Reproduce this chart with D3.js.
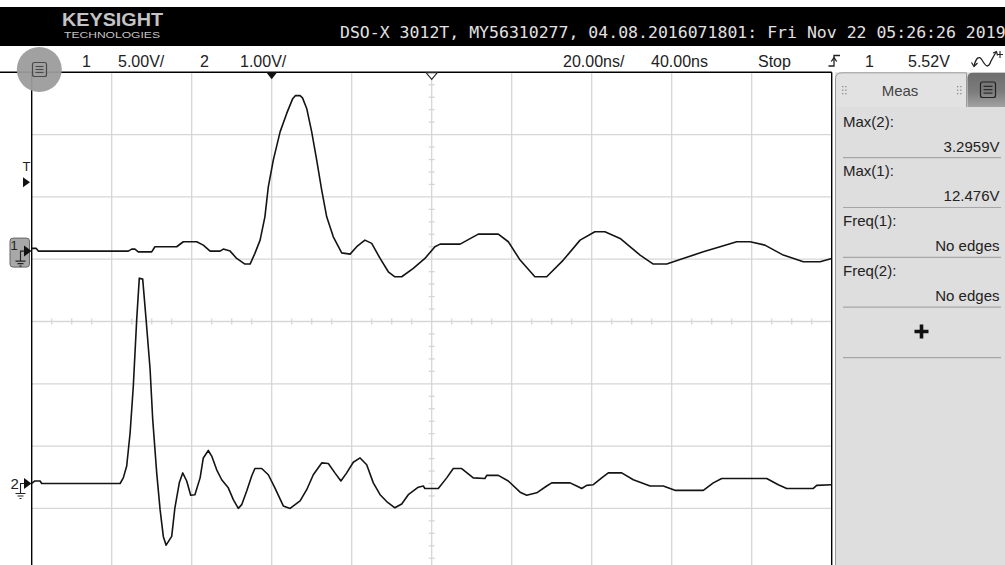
<!DOCTYPE html>
<html>
<head>
<meta charset="utf-8">
<script src="https://cdn.jsdelivr.net/npm/d3@7"></script>
<style>
  html, body { margin: 0; padding: 0; background: #fff; overflow: hidden; }
  svg { display: block; }
</style>
</head>
<body>
<svg id="scope" width="1005" height="565"></svg>
<script>
// ---- Captured waveforms (time in ns, amplitude in volts) ----
const ch1Time = [-60,-58.9,-58.35,-35.85,-35,-34.2,-33.35,-30,-29.2,-23.75,-22.1,-18.75,-17.1,-15.4,-12.9,
  -12.1,-10.4,-8.75,-6.7,-5.4,-4.2,-2.9,-1.7,-0.85,0.4,2.1,3.75,5.2,5.9,7.1,7.7,8.75,10,11.25,12.5,
  13.75,15.4,17.5,19.6,21.25,23.3,25,27.1,29.15,30.8,32.5,35.4,38.3,40.8,42.1,47.1,51.65,56.65,59.15,
  62.1,65.8,68.75,72.9,77.1,80.8,83.3,87.1,92.1,95.4,98.75,102.1,107.9,112.1,116.25,119.6,123.3,127.9,
  132.9,137.1,140];
const ch1Volts = [0.22,0.22,0,0,0.16,0.16,-0.06,-0.06,0.35,0.35,0.75,0.75,0.48,0,0,
  0.16,0,-0.59,-1.04,-1.04,-0.18,0.88,2.75,5.16,7.30,9.57,11.05,12.2,12.476,12.476,12.3,11.45,9.57,7.30,4.90,
  2.75,1.15,-0.14,-0.24,0.35,0.88,0.62,-0.59,-1.66,-2.06,-2.06,-1.39,-0.59,0.35,0.56,0.56,1.36,1.36,0.75,
  -0.72,-2.06,-2.06,-0.72,0.88,1.55,1.55,1.02,-0.32,-1.04,-1.04,-0.67,-0.06,0.35,0.75,0.75,0.48,-0.32,
  -0.86,-0.86,-0.59];

const ch2Time = [-60,-59.2,-57.9,-57.5,-37.9,-37.1,-36.25,-35.4,-34.6,-33.75,-33.1,-32.25,-31.4,-30.4,-29.75,
  -28.75,-27.9,-27.1,-26.4,-25,-24.2,-23.1,-22.25,-21.25,-20.25,-19.2,-17.9,-17.1,-15.85,-15,-13.75,-12.5,
  -10.85,-9.6,-8.35,-7.5,-6.25,-5,-4.2,-2.5,-0.85,0.8,2.9,4.6,7.1,8.75,10.4,12.5,14.15,15.8,17.3,18.75,
  20.4,22.1,23.75,25.4,27.1,28.75,30.8,32.5,34.15,36.65,37.9,38.3,41.65,43.75,45.4,47.5,50.4,53.3,53.75,
  56.65,59.15,62.1,63.75,66.25,68.75,70,74.6,76.25,77.5,78.75,80.4,82.5,84.15,87.5,90.4,94.6,97.9,100.8,
  107.9,110.4,112.5,123.75,126.65,128.75,135.4,136.25,140];
const ch2Volts = [0,0.04,0.04,0,0,0.09,0.28,0.81,1.56,2.63,3.2959,3.28,2.63,1.83,1.03,
  0.17,-0.42,-0.85,-0.99,-0.85,-0.39,0.01,0.17,0.04,-0.19,-0.18,0.09,0.41,0.53,0.44,0.22,0.06,
  -0.07,-0.26,-0.40,-0.34,-0.12,0.12,0.24,0.24,0.14,-0.07,-0.36,-0.40,-0.28,-0.10,0.14,0.33,0.32,0.17,0.04,0.17,
  0.34,0.41,0.30,0.01,-0.18,-0.29,-0.39,-0.33,-0.18,-0.06,-0.04,-0.08,-0.08,0.09,0.24,0.24,0.09,0.08,0.13,
  0.13,0.04,-0.14,-0.19,-0.15,-0.04,0.01,0.01,-0.04,-0.08,-0.03,-0.02,0.09,0.17,0.17,0.06,-0.04,-0.04,-0.11,
  -0.11,0.01,0.08,0.08,-0.02,-0.08,-0.08,-0.03,-0.02];

// ---- Instrument settings ----
const channelNames   = ["1", "2"];
const channelScales  = [5, 1];        // V/div
const channelCenters = [-5.65, 2.6];  // volts at the vertical centre of the screen
const timeScale = 20;                 // ns/div
const timeDelay = 40;                 // ns at the horizontal centre
const triggerLevel = 5.52;            // V, channel 1
const triggerTime = 0;

// ---- Text ----
const brandName = "KEYSIGHT";
const brandSub = "TECHNOLOGIES";
const headerTitle = "DSO-X 3012T, MY56310277, 04.08.2016071801: Fri Nov 22 05:26:26 2019";
const statusLabels = [
  { text: "1", x: 82 }, { text: "5.00V/", x: 118 },
  { text: "2", x: 200 }, { text: "1.00V/", x: 240 },
  { text: "20.00ns/", x: 563 }, { text: "40.00ns", x: 651 },
  { text: "Stop", x: 758 }, { text: "1", x: 865 }, { text: "5.52V", x: 908 }
];
const measTitle = "Meas";
const measNames = ["Max(2):", "Max(1):", "Freq(1):", "Freq(2):"];
const noEdges = "No edges";

// ---- Layout ----
const plot = { left: 31.7, top: 72.3, divW: 80, divH: 62.3, cols: 10, rows: 8 };
plot.right = plot.left + plot.cols * plot.divW;
plot.bottom = plot.top + plot.rows * plot.divH;
const sans = "'Liberation Sans', Arial, sans-serif";

const svg = d3.select("#scope");

const x = d3.scaleLinear()
  .domain([timeDelay - timeScale * plot.cols / 2, timeDelay + timeScale * plot.cols / 2])
  .range([plot.left, plot.right]);
const yScales = channelScales.map((s, i) => d3.scaleLinear()
  .domain([channelCenters[i] - s * plot.rows / 2, channelCenters[i] + s * plot.rows / 2])
  .range([plot.bottom, plot.top]));

// ---- Header bar ----
svg.append("rect").attr("x", 0).attr("y", 7).attr("width", 1005).attr("height", 39).attr("fill", "#000");
svg.append("text").attr("x", 62).attr("y", 25.5).attr("fill", "#c4c4c4")
  .attr("font-family", sans).attr("font-weight", "bold").attr("font-size", 19)
  .attr("textLength", 101).attr("lengthAdjust", "spacingAndGlyphs").text(brandName);
svg.append("text").attr("x", 64).attr("y", 37.8).attr("fill", "#c4c4c4")
  .attr("font-family", sans).attr("font-size", 8.6)
  .attr("textLength", 96).attr("lengthAdjust", "spacingAndGlyphs").text(brandSub);
svg.append("text").attr("x", 340).attr("y", 38.3).attr("fill", "#e2e2e2")
  .attr("font-family", "'DejaVu Sans Mono', 'Liberation Mono', monospace").attr("font-size", 16.5)
  .text(headerTitle);

// ---- Status row ----
svg.selectAll("text.status").data(statusLabels).join("text")
  .attr("class", "status").attr("x", d => d.x).attr("y", 66.5)
  .attr("font-family", sans).attr("font-size", 16).attr("fill", "#222")
  .text(d => d.text);

// trigger edge glyph
svg.append("path").attr("d", "M828.5,66 H834 V55.5 H840").attr("fill", "none").attr("stroke", "#222").attr("stroke-width", 1.3);
svg.append("path").attr("d", "M831.3,61.5 L834,57.6 L836.7,61.5").attr("fill", "none").attr("stroke", "#222").attr("stroke-width", 1.3);
// acquisition mode glyph
svg.append("path").attr("d", "M974,66 C976,58 979,55 982,60 S988,70 991,61 L996,52")
  .attr("fill", "none").attr("stroke", "#222").attr("stroke-width", 1.3);
svg.append("path").attr("d", "M971.5,62.5 L974,66.5 L977.5,63").attr("fill", "none").attr("stroke", "#222").attr("stroke-width", 1.2);
svg.append("path").attr("d", "M993,53 L996.5,51.5 L997.5,55.5").attr("fill", "none").attr("stroke", "#222").attr("stroke-width", 1.2);
svg.append("path").attr("d", "M1000,51 V58 M997,54.5 H1003").attr("fill", "none").attr("stroke", "#222").attr("stroke-width", 1.1);

// ---- Graticule ----
const grid = svg.append("g").attr("stroke", "#d6d6d6").attr("stroke-width", 1.3);
grid.selectAll("line.v").data(d3.range(1, plot.cols)).join("line")
  .attr("x1", i => plot.left + i * plot.divW).attr("x2", i => plot.left + i * plot.divW)
  .attr("y1", plot.top).attr("y2", 565);
grid.selectAll("line.h").data(d3.range(1, plot.rows)).join("line")
  .attr("y1", j => plot.top + j * plot.divH).attr("y2", j => plot.top + j * plot.divH)
  .attr("x1", plot.left).attr("x2", plot.right);

// minor ticks on the centre axes
const cx = plot.left + plot.divW * plot.cols / 2;
const cy = plot.top + plot.divH * plot.rows / 2;
const hTicks = d3.range(0, plot.cols * 4).filter(k => k % 4 !== 0).map(k => plot.left + k * plot.divW / 4);
const vTicks = d3.range(0, plot.rows * 5 + 1).filter(k => k % 5 !== 0).map(k => plot.top + k * plot.divH / 5);
grid.selectAll("line.ht").data(hTicks).join("line")
  .attr("x1", d => d).attr("x2", d => d).attr("y1", cy - 3).attr("y2", cy + 3);
grid.selectAll("line.vt").data(vTicks).join("line")
  .attr("y1", d => d).attr("y2", d => d).attr("x1", cx - 3).attr("x2", cx + 3);

// frame
svg.append("line").attr("x1", 0).attr("x2", plot.right).attr("y1", plot.top).attr("y2", plot.top)
  .attr("stroke", "#000").attr("stroke-width", 1.4);
svg.append("line").attr("x1", plot.left).attr("x2", plot.left).attr("y1", plot.top).attr("y2", 565)
  .attr("stroke", "#000").attr("stroke-width", 1.4);
svg.append("line").attr("x1", plot.right).attr("x2", plot.right).attr("y1", plot.top).attr("y2", 565)
  .attr("stroke", "#000").attr("stroke-width", 1.4);

// ---- Traces ----
svg.append("clipPath").attr("id", "plotClip").append("rect")
  .attr("x", plot.left).attr("y", plot.top).attr("width", plot.right - plot.left).attr("height", plot.bottom - plot.top);

const traces = [
  ch1Time.map((t, i) => [t, ch1Volts[i]]),
  ch2Time.map((t, i) => [t, ch2Volts[i]])
];
traces.forEach((pts, i) => {
  const line = d3.line().x(d => x(d[0])).y(d => yScales[i](d[1])).curve(d3.curveLinear);
  svg.append("path").attr("clip-path", "url(#plotClip)")
    .attr("d", line(pts)).attr("fill", "none")
    .attr("stroke", "#141414").attr("stroke-width", 1.6).attr("stroke-linejoin", "round");
});

// ---- Time reference markers ----
const xt = x(triggerTime), xd = x(timeDelay);
svg.append("path").attr("d", `M${xt - 5.5},${plot.top} L${xt + 5.5},${plot.top} L${xt},${plot.top + 7} Z`).attr("fill", "#111");
svg.append("path").attr("d", `M${xd - 5.5},${plot.top + 0.5} L${xd + 5.5},${plot.top + 0.5} L${xd},${plot.top + 7} Z`)
  .attr("fill", "#fff").attr("stroke", "#222").attr("stroke-width", 1.1);

// ---- Trigger level marker ----
const yTrig = yScales[0](triggerLevel);
svg.append("text").attr("x", 26.5).attr("y", yTrig - 11.5).attr("text-anchor", "middle")
  .attr("font-family", sans).attr("font-size", 13).attr("fill", "#222").text("T");
svg.append("path").attr("d", `M23,${yTrig - 5} L30,${yTrig} L23,${yTrig + 5} Z`).attr("fill", "#111");

// ---- Channel ground markers ----
channelNames.forEach((name, i) => {
  const g = yScales[i](0);
  const grp = svg.append("g");
  if (i === 0) {
    grp.append("rect").attr("x", 10).attr("y", g - 13).attr("width", 19.5).attr("height", 29).attr("rx", 3)
      .attr("fill", "#a8a8a8").attr("stroke", "#666").attr("stroke-width", 1);
  }
  grp.append("text").attr("x", 10.5).attr("y", i === 0 ? g - 1.5 : g + 6)
    .attr("font-family", sans).attr("font-size", i === 0 ? 13 : 15).attr("fill", "#222").text(name);
  grp.append("path").attr("d", `M24,${g - 5.5} L31.5,${g} L24,${g + 5.5} Z`).attr("fill", "#111");
  grp.append("path")
    .attr("d", `M24,${g} H20.5 V${g + 10} M15.5,${g + 10} H25.5 M17.5,${g + 12.5} H23.5 M19.5,${g + 15} H21.5`)
    .attr("fill", "none").attr("stroke", "#222").attr("stroke-width", 1.1);
});

// ---- Menu button (top-left) ----
svg.append("circle").attr("cx", 39.3).attr("cy", 69.5).attr("r", 22.5).attr("fill", "#9c9c9c").attr("opacity", 0.95);
svg.append("rect").attr("x", 32.5).attr("y", 62.5).attr("width", 14).attr("height", 14).attr("rx", 2)
  .attr("fill", "none").attr("stroke", "#4a4a4a").attr("stroke-width", 1.2);
[66.5, 69.5, 72.5].forEach(yy => svg.append("line").attr("x1", 35.5).attr("x2", 43.5).attr("y1", yy).attr("y2", yy)
  .attr("stroke", "#4a4a4a").attr("stroke-width", 1.1));

// ---- Measurement panel ----
const panelX = 835;
svg.append("rect").attr("x", panelX).attr("y", plot.top).attr("width", 1005 - panelX).attr("height", 565 - plot.top)
  .attr("fill", "#dedede");
svg.append("line").attr("x1", panelX + 0.5).attr("x2", panelX + 0.5).attr("y1", 78).attr("y2", 565)
  .attr("stroke", "#9a9a9a");
svg.append("path").attr("d", `M${panelX + 0.5},107 V79 Q${panelX + 0.5},72.8 ${panelX + 7},72.8 H966.5 V107`)
  .attr("fill", "#e2e2e2").attr("stroke", "#9a9a9a").attr("stroke-width", 1);

const tabGrad = svg.append("defs").append("linearGradient").attr("id", "tabGrad").attr("x1", 0).attr("x2", 0).attr("y1", 0).attr("y2", 1);
tabGrad.append("stop").attr("offset", "0%").attr("stop-color", "#6e6e6e");
tabGrad.append("stop").attr("offset", "55%").attr("stop-color", "#7c7c7c");
tabGrad.append("stop").attr("offset", "100%").attr("stop-color", "#a2a2a2");
svg.append("path").attr("d", "M967.5,107 V78 Q967.5,72.8 973,72.8 H1005 V107 Z").attr("fill", "url(#tabGrad)");
svg.append("rect").attr("x", 980.5).attr("y", 82).attr("width", 15).attr("height", 15.5).attr("rx", 2)
  .attr("fill", "none").attr("stroke", "#222").attr("stroke-width", 1.2);
[86.3, 89.7, 93.1].forEach(yy => svg.append("line").attr("x1", 983.5).attr("x2", 992.5).attr("y1", yy).attr("y2", yy)
  .attr("stroke", "#222").attr("stroke-width", 1.1));

// grip dots on the tab
[842, 957].forEach(gx => {
  [0, 3.2].forEach(dx => [86, 89.5, 93].forEach(dy => svg.append("rect")
    .attr("x", gx + dx).attr("y", dy).attr("width", 1.3).attr("height", 1.3).attr("fill", "#8a8a8a")));
});
svg.append("text").attr("x", 900).attr("y", 96).attr("text-anchor", "middle")
  .attr("font-family", sans).attr("font-size", 15).attr("fill", "#444").text(measTitle);

// measurement rows: values derived from the captured traces
const fmt = d3.format(".5r");
const measValues = [
  fmt(d3.max(ch2Volts)) + "V",
  fmt(d3.max(ch1Volts)) + "V",
  noEdges,
  noEdges
];
const rowH = 49.8, rowTop = 108;
measNames.forEach((nm, k) => {
  const y0 = rowTop + k * rowH;
  svg.append("text").attr("x", 843).attr("y", y0 + 18.5)
    .attr("font-family", sans).attr("font-size", 15).attr("fill", "#222").text(nm);
  svg.append("text").attr("x", 999.5).attr("y", y0 + 43.5).attr("text-anchor", "end")
    .attr("font-family", sans).attr("font-size", 15).attr("fill", "#222").text(measValues[k]);
  svg.append("line").attr("x1", 843).attr("x2", 1001).attr("y1", y0 + 49.7).attr("y2", y0 + 49.7)
    .attr("stroke", "#a6a6a6").attr("stroke-width", 1.2);
});
// add-measurement button
svg.append("path").attr("d", "M914.5,331.5 H928.5 M921.5,324.5 V338.5")
  .attr("stroke", "#111").attr("stroke-width", 3.6).attr("fill", "none");
svg.append("line").attr("x1", 843).attr("x2", 1001).attr("y1", 357.7).attr("y2", 357.7)
  .attr("stroke", "#a6a6a6").attr("stroke-width", 1.2);
</script>
</body>
</html>
